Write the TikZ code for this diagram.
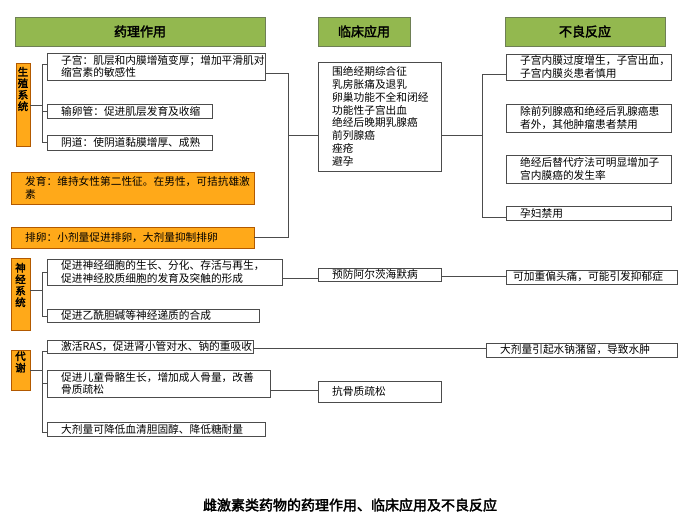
\documentclass[tikz,border=0pt]{standalone}
\usepackage{fontspec}
\setmainfont{Noto Sans CJK SC}[AutoFakeBold=2.5]
\definecolor{hg}{HTML}{93B84F}
\definecolor{hb}{HTML}{6E7F55}
\begin{document}
\begin{tikzpicture}[x=1pt,y=-1pt,
  box/.style={draw=black!70,line width=0.7pt,fill=white,inner sep=0pt},
  hdr/.style={draw=hb,fill=hg,line width=0.8pt},
  org/.style={draw=orange!70!black,fill=orange!75!yellow!90,line width=0.7pt},
  ln/.style={draw=black!70,line width=0.7pt},
  txt/.style={anchor=west,inner sep=0pt,font=\fontsize{10.7}{12.7}\selectfont,align=left},
  hd/.style={font=\fontsize{13}{14}\selectfont\bfseries},
  sd/.style={font=\fontsize{10.5}{11.5}\selectfont\bfseries,align=center}]
\useasboundingbox (0,0) rectangle (700,525);
% headers
\draw[hdr] (15,17) rectangle (265,46); \node[hd] (h1) at (140,31.5) {药理作用};
\draw[hdr] (318,17) rectangle (410,46); \node[hd] (h2) at (364,31.5) {临床应用};
\draw[hdr] (505,17) rectangle (665,46); \node[hd] (h3) at (585,31.5) {不良反应};
% side labels
\draw[org] (16,63) rectangle (30,146); \node[sd] (s1) at (23,89) {生\\殖\\系\\统};
\draw[org] (11,258) rectangle (30,330); \node[sd] (s2) at (20.5,285) {神\\经\\系\\统};
\draw[org] (11,350) rectangle (30,390); \node[sd] (s3) at (20.5,362) {代\\谢};
% brackets
\draw[ln] (30,105)--(42,105);
\draw[ln] (47,64)--(42,64)--(42,142)--(47,142); \draw[ln] (42,111)--(47,111);
\draw[ln] (30,290)--(42,290);
\draw[ln] (47,272)--(42,272)--(42,316)--(47,316);
\draw[ln] (30,370)--(42,370);
\draw[ln] (47,351)--(42,351)--(42,432)--(47,432); \draw[ln] (42,383)--(47,383);
% left boxes
\draw[box] (47,53) rectangle (265,80); \node[txt] (a1) at (61,66.5) {子宫：肌层和内膜增殖变厚；增加平滑肌对\\缩宫素的敏感性};
\draw[box] (47,104) rectangle (212,118); \node[txt] (a2) at (61,111) {输卵管：促进肌层发育及收缩};
\draw[box] (47,135) rectangle (212,150); \node[txt] (a3) at (61,142.5) {阴道：使阴道黏膜增厚、成熟};
\draw[org] (11,172) rectangle (254,204); \node[txt] (a4) at (25,188) {发育：维持女性第二性征。在男性，可拮抗雄激\\素};
\draw[org] (11,227) rectangle (254,248); \node[txt] (a5) at (25,237.5) {排卵：小剂量促进排卵，大剂量抑制排卵};
\draw[box] (47,259) rectangle (282,285); \node[txt] (b1) at (61,272) {促进神经细胞的生长、分化、存活与再生，\\促进神经胶质细胞的发育及突触的形成};
\draw[box] (47,309) rectangle (259,322); \node[txt] (b2) at (61,315.5) {促进乙酰胆碱等神经递质的合成};
\draw[box] (47,340) rectangle (253,353); \node[txt] (c1) at (61,346.5) {激活RAS，促进肾小管对水、钠的重吸收};
\draw[box] (47,370) rectangle (270,397); \node[txt] (c2) at (61,383.5) {促进儿童骨骼生长，增加成人骨量，改善\\骨质疏松};
\draw[box] (47,422) rectangle (265,436); \node[txt] (c3) at (61,429) {大剂量可降低血清胆固醇、降低糖耐量};
% middle
\draw[ln] (265,73)--(288,73)--(288,237)--(254,237); \draw[ln] (288,135)--(318,135);
\draw[box] (318,62) rectangle (441,171);
\node[txt,font=\fontsize{10.7}{12.8}\selectfont] (m1) at (332,116.5) {围绝经期综合征\\乳房胀痛及退乳\\卵巢功能不全和闭经\\功能性子宫出血\\绝经后晚期乳腺癌\\前列腺癌\\痤疮\\避孕};
\draw[ln] (282,278)--(318,278);
\draw[box] (318,268) rectangle (441,281); \node[txt] (m2) at (332,274.5) {预防阿尔茨海默病};
\draw[ln] (270,390)--(318,390);
\draw[box] (318,381) rectangle (441,402); \node[txt] (m3) at (332,391.5) {抗骨质疏松};
% right
\draw[ln] (441,135)--(482,135); \draw[ln] (506,74)--(482,74)--(482,217)--(506,217);
\draw[box] (506,54) rectangle (671,80); \node[txt] (r1) at (520,67) {子宫内膜过度增生，子宫出血，\\子宫内膜炎患者慎用};
\draw[box] (506,104) rectangle (671,132); \node[txt] (r2) at (520,118) {除前列腺癌和绝经后乳腺癌患\\者外，其他肿瘤患者禁用};
\draw[box] (506,155) rectangle (671,183); \node[txt] (r3) at (520,169) {绝经后替代疗法可明显增加子\\宫内膜癌的发生率};
\draw[box] (506,206) rectangle (671,220); \node[txt] (r4) at (520,213) {孕妇禁用};
\draw[ln] (441,276)--(506,276);
\draw[box] (506,270) rectangle (677,284); \node[txt] (r5) at (513,277) {可加重偏头痛，可能引发抑郁症};
\draw[ln] (253,348)--(486,348);
\draw[box] (486,343) rectangle (677,357); \node[txt] (r6) at (500,350) {大剂量引起水钠潴留，导致水肿};
\node[font=\fontsize{14}{15}\selectfont\bfseries] (t) at (350,505) {雌激素类药物的药理作用、临床应用及不良反应};
\end{tikzpicture}
\end{document}
